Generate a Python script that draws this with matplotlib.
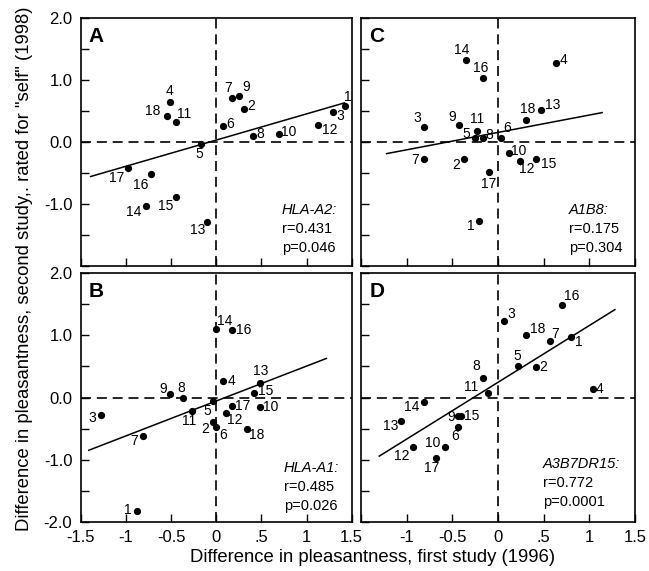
import numpy as np
import matplotlib
matplotlib.use("Agg")
import matplotlib.pyplot as plt

plt.rcParams['font.family'] = ['Liberation Sans', 'DejaVu Sans']

# point numbers 1..18 for every panel
ids = list(range(1, 19))

# panel A (HLA-A2)
a_x = [1.43, 0.31, 1.29, -0.51, -0.17, 0.07, 0.17, 0.41, 0.25,
       0.69, -0.44, 1.13, -0.10, -0.78, -0.45, -0.72, -0.98, -0.55]
a_y = [0.58, 0.54, 0.48, 0.64, -0.03, 0.26, 0.71, 0.10, 0.74,
       0.13, 0.33, 0.27, -1.30, -1.04, -0.89, -0.52, -0.42, 0.42]

# panel C (A1B8)
c_x = [-0.21, -0.37, -0.81, 0.63, -0.25, 0.03, -0.81, -0.16, -0.43,
       0.12, -0.23, 0.24, 0.47, -0.35, 0.42, -0.16, -0.10, 0.31]
c_y = [-1.28, -0.27, 0.24, 1.27, 0.06, 0.07, -0.27, 0.07, 0.28,
       -0.18, 0.17, -0.30, 0.51, 1.33, -0.27, 1.03, -0.49, 0.35]

# panel B (HLA-A1)
b_x = [-0.88, -0.03, -1.27, 0.08, -0.04, 0.00, -0.81, -0.37, -0.51,
       0.49, -0.27, 0.11, 0.49, 0.00, 0.42, 0.18, 0.18, 0.34]
b_y = [-1.82, -0.39, -0.28, 0.26, -0.06, -0.47, -0.62, 0.00, 0.06,
       -0.15, -0.21, -0.25, 0.24, 1.10, 0.07, 1.08, -0.13, -0.51]

# panel D (A3B7DR15)
d_x = [0.80, 0.42, 0.07, 1.04, 0.22, -0.44, 0.57, -0.16, -0.44,
       -0.58, -0.11, -0.93, -1.06, -0.81, -0.40, 0.70, -0.68, 0.31]
d_y = [0.98, 0.49, 1.23, 0.14, 0.51, -0.47, 0.91, 0.32, -0.30,
       -0.80, 0.08, -0.80, -0.38, -0.08, -0.30, 1.49, -0.97, 1.00]

# x-extent of the drawn fit lines
a_fit = [-1.39, 1.42]
c_fit = [-1.22, 1.14]
b_fit = [-1.41, 1.22]
d_fit = [-1.30, 1.28]

names = ['HLA-A2:', 'A1B8:', 'HLA-A1:', 'A3B7DR15:']
r_vals = ['r=0.431', 'r=0.175', 'r=0.485', 'r=0.772']
p_vals = ['p=0.046', 'p=0.304', 'p=0.026', 'p=0.0001']
letters = ['A', 'C', 'B', 'D']

# label offsets in pixels (dx, dy) for each point
off_a = {1: (2, 9), 2: (7, 3), 3: (8, -4), 4: (-1, 11), 5: (-2, -10), 6: (8, 2),
         7: (-3, 10), 8: (7, 2), 9: (7, 9), 10: (10, 2), 11: (8, 8), 12: (11, -5),
         13: (-9, -8), 14: (-12, -6), 15: (-10, -9), 16: (-10, -11), 17: (-11, -10),
         18: (-14, 5)}
off_c = {1: (-8, -5), 2: (-8, -6), 3: (-7, 9), 4: (8, 3), 5: (-9, 4), 6: (6, 10),
         7: (-9, -1), 8: (6, 3), 9: (-7, 8), 10: (10, 2), 11: (0, 12), 12: (7, -8),
         13: (12, 5), 14: (-4, 10), 15: (12, -5), 16: (-3, 10), 17: (0, -12),
         18: (1, 11)}
off_b = {1: (-9, 1), 2: (-8, -7), 3: (-9, -3), 4: (8, 0), 5: (-5, -10), 6: (7, -8),
         7: (-9, -5), 8: (-2, 10), 9: (-7, 5), 10: (10, 0), 11: (-3, -10), 12: (9, -7),
         13: (0, 12), 14: (8, 8), 15: (12, 2), 16: (11, 0), 17: (10, 0), 18: (10, -6)}
off_d = {1: (8, -5), 2: (7, 0), 3: (7, 7), 4: (7, 0), 5: (-1, 10), 6: (-3, -9),
         7: (5, 7), 8: (-7, 12), 9: (-7, -1), 10: (-12, 4), 11: (-17, 6), 12: (-11, -9),
         13: (-10, -5), 14: (-12, -5), 15: (10, 0), 16: (10, 9), 17: (-4, -10),
         18: (11, 6)}

W, H = 649, 571
fig = plt.figure(figsize=(W / 100, H / 100), dpi=100)

left1, w1 = 80.7 / W, 271 / W
left2, w2 = 361 / W, 274 / W
boxes = [
    [left1, 1 - 265.7 / H, w1, 247.4 / H],
    [left2, 1 - 265.7 / H, w2, 247.4 / H],
    [left1, 1 - 521.7 / H, w1, 248.4 / H],
    [left2, 1 - 521.7 / H, w2, 248.4 / H],
]
panels = [(a_x, a_y, a_fit, off_a), (c_x, c_y, c_fit, off_c),
          (b_x, b_y, b_fit, off_b), (d_x, d_y, d_fit, off_d)]
text_x = [0.742, 0.758, 0.750, 0.665]
text_y = [0.225, 0.225, 0.217, 0.231]

yt = np.arange(-2, 2.01, 0.5)
xt = np.arange(-1.5, 1.51, 0.5)

for i, (xs, ys, fx, offs) in enumerate(panels):
    ax = fig.add_axes(boxes[i])
    ax.set_xlim(-1.5, 1.5)
    ax.set_ylim(-2, 2)
    ax.axhline(0, color='black', lw=1.2, dashes=(6, 3.5), zorder=1)
    ax.axvline(0, color='black', lw=1.2, dashes=(6, 3.5), zorder=1)

    # least squares line
    k, b0 = np.polyfit(xs, ys, 1)
    fx = np.array(fx)
    ax.plot(fx, k * fx + b0, color='black', lw=1.1, zorder=2)

    ax.plot(xs, ys, 'o', color='black', ms=4.2, zorder=3)
    for n, x, y in zip(ids, xs, ys):
        dx, dy = offs[n]
        ax.annotate(str(n), (x, y), xytext=(dx, dy), textcoords='offset pixels',
                    ha='center', va='center', fontsize=10)

    ax.text(0.03, 0.965, letters[i], transform=ax.transAxes, fontsize=15,
            fontweight='bold', ha='left', va='top')
    ax.text(text_x[i], text_y[i], names[i], transform=ax.transAxes,
            fontsize=10.5, style='italic', ha='left', va='center')
    ax.text(text_x[i], text_y[i] - 0.076, r_vals[i], transform=ax.transAxes,
            fontsize=10.5, ha='left', va='center')
    ax.text(text_x[i], text_y[i] - 0.152, p_vals[i], transform=ax.transAxes,
            fontsize=10.5, ha='left', va='center')

    ax.tick_params(direction='in', length=6, width=1, top=False, right=False,
                   labelsize=12, pad=6)
    ax.set_yticks(yt)
    ax.set_xticks(xt)
    if i in (0, 2):
        labs = ['%.1f' % v if v == int(v) else '' for v in yt]
        if i == 0:
            labs[0] = ''
        ax.set_yticklabels(labs)
    else:
        ax.set_yticklabels([])
    if i in (2, 3):
        xl = ['-1.5', '-1', '-0.5', '0', '.5', '1', '1.5']
        if i == 3:
            xl[0] = ''
        ax.set_xticklabels(xl)
    else:
        ax.set_xticklabels([])
    for s in ax.spines.values():
        s.set_linewidth(1.2)

fig.text(373 / W, 1 - 558 / H, 'Difference in pleasantness, first study (1996)',
         ha='center', va='center', fontsize=13.3)
fig.text(25 / W, 1 - 269 / H,
         'Difference in pleasantness, second study,. rated for "self" (1998)',
         ha='center', va='center', rotation=90, fontsize=13.3)

fig.savefig('out.png', dpi=100)
